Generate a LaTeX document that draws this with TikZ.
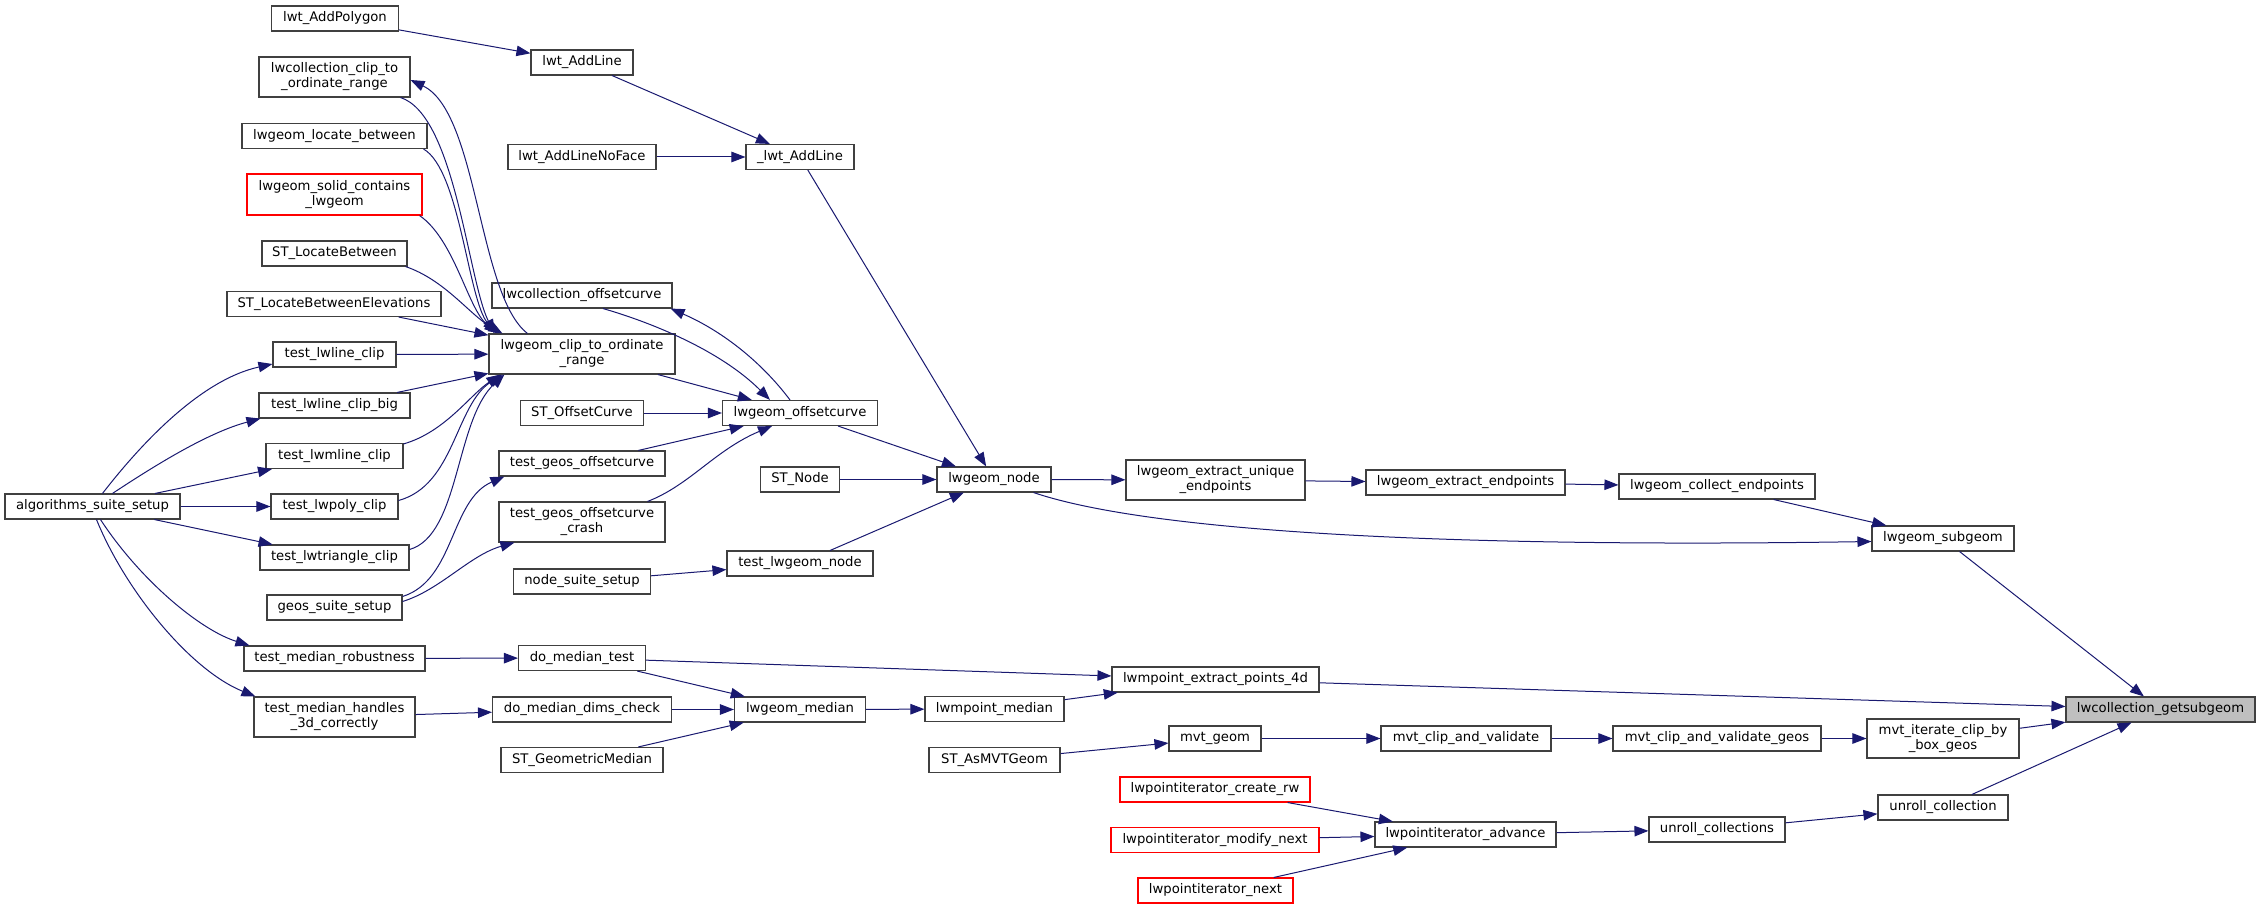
\documentclass[tikz,border=0pt]{standalone}
\usepackage{fontspec}
\setmainfont{DejaVu Sans}
\usetikzlibrary{arrows.meta}
\definecolor{edgecol}{HTML}{191970}
\definecolor{nodeborder}{HTML}{404040}
\definecolor{rootfill}{HTML}{BFBFBF}
\newcommand\nfont{\fontsize{13.2}{15}\selectfont}
\tikzset{
  nd/.style={draw=nodeborder, line width=1.1pt, fill=white, inner sep=0pt, minimum height=25pt, align=center, font=\nfont},
  ndtwo/.style={nd, minimum height=40pt},
  rednd/.style={nd, draw=red},
  rootnd/.style={nd, fill=rootfill},
  edge/.style={draw=edgecol, line width=1pt, -{Triangle[length=14pt,width=10.5pt]}},
}
\begin{document}
\begin{tikzpicture}[x=1pt,y=-1pt]
\useasboundingbox (0,0) rectangle (2260,909);
% column 1
\node[nd, minimum width=175pt] (algo) at (92.5,506.5) {algorithms\_suite\_setup};
% column 2
\node[nd, minimum width=127pt] (addpoly) at (335,18.5) {lwt\_AddPolygon};
\node[ndtwo, minimum width=151pt] (lwcclip) at (334.5,77) {lwcollection\_clip\_to\\\_ordinate\_range};
\node[nd, minimum width=185pt] (locbetw) at (334.5,136) {lwgeom\_locate\_between};
\node[rednd, minimum width=175pt, minimum height=41pt] (solid) at (334.5,194.5) {lwgeom\_solid\_contains\\\_lwgeom};
\node[nd, minimum width=145pt] (stlocb) at (334.5,253.5) {ST\_LocateBetween};
\node[nd, minimum width=214pt] (stlocbe) at (334,304) {ST\_LocateBetweenElevations};
\node[nd, minimum width=123pt] (tlwline) at (334.5,354.5) {test\_lwline\_clip};
\node[nd, minimum width=151pt] (tlwlinebig) at (334.5,405.5) {test\_lwline\_clip\_big};
\node[nd, minimum width=137pt] (tlwmline) at (334.5,456) {test\_lwmline\_clip};
\node[nd, minimum width=127pt] (tlwpoly) at (334.5,506.5) {test\_lwpoly\_clip};
\node[nd, minimum width=149pt] (tlwtri) at (334.5,557.5) {test\_lwtriangle\_clip};
\node[nd, minimum width=135pt] (geossuite) at (334.5,607.5) {geos\_suite\_setup};
\node[nd, minimum width=181pt] (tmedrob) at (334.5,658.5) {test\_median\_robustness};
\node[ndtwo, minimum width=161pt] (tmed3d) at (334.5,717) {test\_median\_handles\\\_3d\_correctly};
% column 3
\node[nd, minimum width=102pt] (addline) at (582,62.5) {lwt\_AddLine};
\node[nd, minimum width=148pt] (addlinenf) at (582,157) {lwt\_AddLineNoFace};
\node[nd, minimum width=180pt] (lwcoff) at (582,295.5) {lwcollection\_offsetcurve};
\node[ndtwo, minimum width=186pt] (lwgclip) at (582,354) {lwgeom\_clip\_to\_ordinate\\\_range};
\node[nd, minimum width=123pt] (stoff) at (582,413) {ST\_OffsetCurve};
\node[nd, minimum width=166pt] (tgeosoff) at (582,463.5) {test\_geos\_offsetcurve};
\node[ndtwo, minimum width=166pt] (tgeosoffc) at (582,522) {test\_geos\_offsetcurve\\\_crash};
\node[nd, minimum width=137pt] (nodesuite) at (582,581.5) {node\_suite\_setup};
\node[nd, minimum width=127pt] (domedtest) at (582,658) {do\_median\_test};
\node[nd, minimum width=179pt] (domeddims) at (582,709.5) {do\_median\_dims\_check};
\node[nd, minimum width=162pt] (stgeomed) at (582,760) {ST\_GeometricMedian};
% column 4
\node[nd, minimum width=108pt] (uaddline) at (800,157) {\_lwt\_AddLine};
\node[nd, minimum width=155pt] (lwgoff) at (800,413) {lwgeom\_offsetcurve};
\node[nd, minimum width=79pt] (stnode) at (800,479.5) {ST\_Node};
\node[nd, minimum width=146pt] (tlwgnode) at (800,563.5) {test\_lwgeom\_node};
\node[nd, minimum width=131pt] (lwgmed) at (800,709.5) {lwgeom\_median};
% column 5
\node[nd, minimum width=114pt] (lwgnode) at (994,479.5) {lwgeom\_node};
\node[nd, minimum width=139pt] (lwmpmed) at (994.5,709) {lwmpoint\_median};
\node[nd, minimum width=131pt] (stasmvt) at (994.5,760) {ST\_AsMVTGeom};
% column 6
\node[ndtwo, minimum width=179pt] (uniqend) at (1215.5,480) {lwgeom\_extract\_unique\\\_endpoints};
\node[nd, minimum width=207pt] (pts4d) at (1215.5,679.5) {lwmpoint\_extract\_points\_4d};
\node[nd, minimum width=92pt] (mvtgeom) at (1215,738.5) {mvt\_geom};
\node[rednd, minimum width=190pt] (lpcreate) at (1215,789.5) {lwpointiterator\_create\_rw};
\node[rednd, minimum width=208pt] (lpmodify) at (1215,840) {lwpointiterator\_modify\_next};
\node[rednd, minimum width=155pt] (lpnext) at (1215.5,890.5) {lwpointiterator\_next};
% column 7
\node[nd, minimum width=199pt] (extend) at (1465.5,482.5) {lwgeom\_extract\_endpoints};
\node[nd, minimum width=170pt] (mvtclipval) at (1466,738.5) {mvt\_clip\_and\_validate};
\node[nd, minimum width=181pt] (lpadvance) at (1465.5,834.5) {lwpointiterator\_advance};
% column 8
\node[nd, minimum width=196pt] (collend) at (1717,486.5) {lwgeom\_collect\_endpoints};
\node[nd, minimum width=208pt] (mvtclipgeos) at (1717,738.5) {mvt\_clip\_and\_validate\_geos};
\node[nd, minimum width=136pt] (unrollcs) at (1717,829.5) {unroll\_collections};
% column 9
\node[nd, minimum width=142pt] (subgeom) at (1943,538.5) {lwgeom\_subgeom};
\node[ndtwo, minimum width=152pt, minimum height=39pt] (mvtiter) at (1943,738.5) {mvt\_iterate\_clip\_by\\\_box\_geos};
\node[nd, minimum width=130pt] (unrollc) at (1943,807.5) {unroll\_collection};
% root
\node[rootnd, minimum width=189pt] (getsub) at (2160.5,709.5) {lwcollection\_getsubgeom};

% ---- edges ----
\draw[edge] (addpoly) -- (addline);
\draw[edge] (addline) -- (uaddline);
\draw[edge] (addlinenf) -- (uaddline);
\draw[edge] (uaddline) -- (lwgnode);
% into lwgeom_clip_to_ordinate_range
\draw[edge] ([xshift=-10pt]lwcclip.south east) .. controls (455,115) and (468,280) .. ([xshift=6pt]lwgclip.north west);
\draw[edge] ([xshift=39pt]lwgclip.north west) .. controls (478,295) and (478,112) .. ([yshift=-3pt]lwcclip.east);
\draw[edge] ([xshift=-4pt]locbetw.south east) .. controls (460,170) and (468,300) .. ([xshift=8pt]lwgclip.north west);
\draw[edge] ([xshift=-3pt]solid.south east) .. controls (455,240) and (468,310) .. ([xshift=10pt]lwgclip.north west);
\draw[edge] ([xshift=-2pt]stlocb.south east) .. controls (445,280) and (470,315) .. ([xshift=14pt]lwgclip.north west);
\draw[edge] (stlocbe) -- (lwgclip);
\draw[edge] (tlwline) -- (lwgclip);
\draw[edge] (tlwlinebig) -- (lwgclip);
\draw[edge] ([yshift=-1pt]tlwmline.north east) .. controls (445,432) and (470,395) .. ([xshift=12pt]lwgclip.south west);
\draw[edge] ([yshift=6pt]tlwpoly.east) .. controls (455,485) and (455,405) .. ([xshift=14pt]lwgclip.south west);
\draw[edge] ([yshift=8pt]tlwtri.east) .. controls (460,535) and (455,420) .. ([xshift=16pt]lwgclip.south west);
% algorithms_suite_setup
\draw[edge] ([xshift=10pt]algo.north) .. controls (140,445) and (200,380) .. ([yshift=-9.5pt]tlwline.west);
\draw[edge] ([xshift=20pt]algo.north) .. controls (160,462) and (210,432) .. ([xshift=2pt]tlwlinebig.south west);
\draw[edge] (algo) -- (tlwmline);
\draw[edge] (algo) -- (tlwpoly);
\draw[edge] (algo) -- (tlwtri);
\draw[edge] ([xshift=8pt]algo.south) .. controls (140,580) and (200,630) .. ([xshift=6pt]tmedrob.north west);
\draw[edge] ([xshift=4pt]algo.south) .. controls (125,590) and (190,670) .. ([xshift=2pt]tmed3d.north west);
% geos suite
\draw[edge] ([yshift=11pt]geossuite.east) .. controls (455,580) and (450,500) .. ([xshift=6pt]tgeosoff.south west);
\draw[edge] ([yshift=6pt]geossuite.east) .. controls (440,590) and (470,555) .. ([xshift=16pt]tgeosoffc.south west);
% offsetcurve
\draw[edge] ([xshift=21pt]lwcoff.south) .. controls (650,322) and (720,350) .. ([xshift=-30pt]lwgoff.north);
\draw[edge] ([xshift=-10pt]lwgoff.north) .. controls (760,360) and (720,330) .. ([xshift=-2pt]lwcoff.south east);
\draw[edge] (lwgclip) -- (lwgoff);
\draw[edge] (stoff) -- (lwgoff);
\draw[edge] (tgeosoff) -- (lwgoff);
\draw[edge] ([xshift=-18pt]tgeosoffc.north east) .. controls (690,485) and (715,450) .. ([xshift=-28pt]lwgoff.south);
% node
\draw[edge] (lwgoff) -- (lwgnode);
\draw[edge] (stnode) -- (lwgnode);
\draw[edge] (tlwgnode) -- (lwgnode);
\draw[edge] (nodesuite) -- (tlwgnode);
\draw[edge] (lwgnode) -- (uniqend);
\draw[edge] ([xshift=-18pt]lwgnode.south east) .. controls (1150,532) and (1450,548) .. ([yshift=-3pt]subgeom.west);
\draw[edge] (uniqend) -- (extend);
\draw[edge] (extend) -- (collend);
\draw[edge] (collend) -- (subgeom);
\draw[edge] (subgeom) -- (getsub);
% median
\draw[edge] (tmedrob) -- (domedtest);
\draw[edge] (tmed3d) -- (domeddims);
\draw[edge] (domedtest) -- (lwgmed);
\draw[edge] (domedtest) -- (pts4d);
\draw[edge] (domeddims) -- (lwgmed);
\draw[edge] (stgeomed) -- (lwgmed);
\draw[edge] (lwgmed) -- (lwmpmed);
\draw[edge] (lwmpmed) -- (pts4d);
\draw[edge] (pts4d) -- (getsub);
% mvt
\draw[edge] (stasmvt) -- (mvtgeom);
\draw[edge] (mvtgeom) -- (mvtclipval);
\draw[edge] (mvtclipval) -- (mvtclipgeos);
\draw[edge] (mvtclipgeos) -- (mvtiter);
\draw[edge] (mvtiter) -- (getsub);
% point iterator
\draw[edge] (lpcreate) -- (lpadvance);
\draw[edge] (lpmodify) -- (lpadvance);
\draw[edge] (lpnext) -- (lpadvance);
\draw[edge] (lpadvance) -- (unrollcs);
\draw[edge] (unrollcs) -- (unrollc);
\draw[edge] (unrollc) -- (getsub);
\end{tikzpicture}
\end{document}
